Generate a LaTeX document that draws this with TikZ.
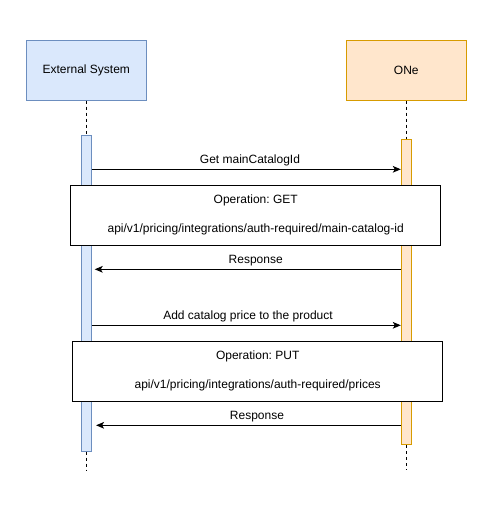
\documentclass[tikz,border=0pt]{standalone}
\usepackage{fontspec}
\setmainfont{Liberation Sans}
\usetikzlibrary{arrows.meta}
\frenchspacing

\definecolor{extfill}{HTML}{DAE8FC}
\definecolor{extdraw}{HTML}{6C8EBF}
\definecolor{onefill}{HTML}{FFE6CC}
\definecolor{onedraw}{HTML}{D79B00}

\begin{document}
\begin{tikzpicture}[x=0.75pt, y=-0.75pt,
        actor/.style={
            % The shape:
            rectangle,
            % The size:
            minimum width=90pt, minimum height=45pt,
            % The border
            line width=0.75pt,
            % Font
            font=\fontsize{9pt}{11pt}\selectfont
        },
        activation/.style={
            % The shape:
            rectangle, anchor=north, inner sep=0pt,
            % The size:
            minimum width=7.5pt,
            % The border
            line width=0.75pt
        },
        operation/.style={
            % The shape:
            rectangle, align=center,
            % The size:
            minimum width=277.5pt, minimum height=45pt,
            % The border
            line width=0.75pt,
            draw=black,
            % The filling
            fill=white,
            % Font
            font=\fontsize{9pt}{21.5pt}\selectfont
        },
        lifeline/.style={line width=0.75pt, dash pattern=on 2.25pt off 2.25pt},
        msg/.style={line width=0.75pt, -{Stealth[length=6pt, width=5pt, inset=1.5pt]}},
        msglabel/.style={anchor=base, inner sep=0pt, font=\fontsize{9pt}{11pt}\selectfont}
    ]

    \useasboundingbox (0,0) rectangle (491,514);

    % The participants
    \node [actor, draw=extdraw, fill=extfill] (ext) at (86.3,70) {External System};
    \node [actor, draw=onedraw, fill=onefill] (one) at (406.3,70) {ONe};

    \node [activation, draw=extdraw, fill=extfill, minimum height=236.5pt] (extact) at (86.3,135.3) {};
    \node [activation, draw=onedraw, fill=onefill, minimum height=228.75pt] (oneact) at (406.3,139.3) {};

    \coordinate (extend) at (86.3,470);
    \coordinate (oneend) at (406.3,470);

    \draw [lifeline] (ext) -- (extact);
    \draw [lifeline] (extact) -- (extend);
    \draw [lifeline] (one) -- (oneact);
    \draw [lifeline] (oneact) -- (oneend);

    % The messages
    \foreach \i/\y/\lx/\from/\to/\sh/\txt in {1/169.3/250/extact.east/oneact.west/0/Get mainCatalogId,
        2/269.3/255.7/oneact.west/extact.east/2.2/Response,
        3/325.3/248/extact.east/oneact.west/0/Add catalog price to the product,
        4/425.3/257/oneact.west/extact.east/3.2/Response}
    {
        \draw [msg, shorten >=\sh pt] (\from |- 0,\y) -- (\to |- 0,\y);
        \node [msglabel] (label\i) at (\lx,\y-5.7) {\txt};
    }

    % The operations
    \node [operation] (get) at (255.7,215.2) {Operation: GET\\api/v1/pricing/integrations/auth-required/main-catalog-id};
    \node [operation] (put) at (257.7,371.2) {Operation: PUT\\api/v1/pricing/integrations/auth-required/prices};

\end{tikzpicture}
\end{document}
